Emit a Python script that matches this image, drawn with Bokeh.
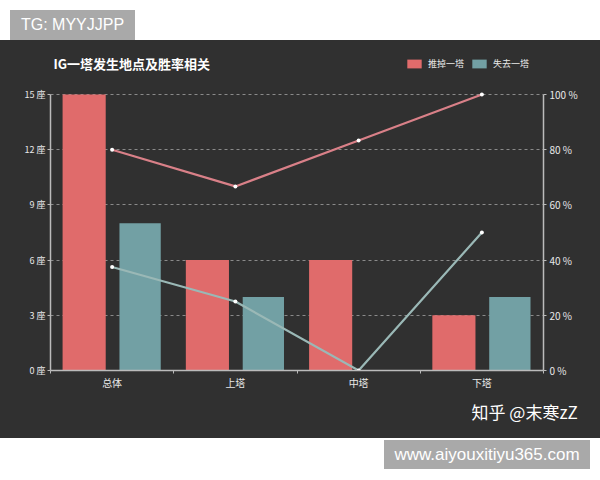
from bokeh.plotting import figure
from bokeh.models import (Range1d, LinearAxis, FixedTicker, Label, Legend, Title,
                          LegendItem, Div, ColumnDataSource, Grid)
from bokeh.layouts import column
from bokeh.transform import dodge
from bokeh.embed import file_html
from bokeh.resources import INLINE

# ---------------- data ----------------
categories = ["总体", "上塔", "中塔", "下塔"]
push_counts = [15, 6, 6, 3]            # 推掉一塔 (座)
lose_counts = [8, 4, 0, 4]             # 失去一塔 (座)
push_winrate = [80, 66.7, 83.3, 100]   # 推掉一塔 胜率 %
lose_winrate = [37.5, 25, 0, 50]       # 失去一塔 胜率 %
count_ticks = [0, 3, 6, 9, 12, 15]
pct_ticks = [0, 20, 40, 60, 80, 100]
series_names = ["推掉一塔", "失去一塔"]
title_text = "IG一塔发生地点及胜率相关"
signature = "知乎 @末寒zZ"
top_mark = "TG: MYYJJPP"
bottom_mark = "www.aiyouxitiyu365.com"

# ---------------- style ----------------
BG = "#303030"
RED = "#e06b6b"
TEAL = "#72a0a4"
RED_LINE = "#d98088"
TEAL_LINE = "#9ab8b6"
AXIS = "#bbbbbb"
TXT = "#e8e8e8"
FONT = "Noto Sans CJK SC"

# layout (pixels)
FIG_W, FIG_H = 600, 398
B_LEFT, B_RIGHT, B_TOP, B_BOTTOM = 50, 57, 4, 68
AXIS_SPAN_PX = 276                       # height of the value axes inside the frame
frame_h = FIG_H - B_TOP - B_BOTTOM
count_max = count_ticks[-1]
pct_max = pct_ticks[-1]
y_end = count_max * frame_h / AXIS_SPAN_PX
pct_end = pct_max * frame_h / AXIS_SPAN_PX

n = len(categories)
centers = [i + 0.5 for i in range(n)]      # category slot centres on the index scale
bounds = list(range(n + 1))                # category slot boundaries

src = ColumnDataSource(dict(xc=centers, cat=categories, push=push_counts, lose=lose_counts,
                            pw=push_winrate, lw=lose_winrate))

p = figure(width=FIG_W, height=FIG_H, x_range=Range1d(0, n), y_range=Range1d(0, y_end),
           output_backend="svg", toolbar_location=None,
           x_axis_location=None, y_axis_location=None,
           background_fill_color=BG, border_fill_color=BG,
           min_border_left=B_LEFT, min_border_right=B_RIGHT,
           min_border_top=B_TOP, min_border_bottom=B_BOTTOM)
p.outline_line_color = None
p.outline_line_alpha = 0
p.styles = {"background-color": BG}
p.center = []
p.extra_y_ranges = {"pct": Range1d(0, pct_end)}

grid = Grid(dimension=1, ticker=FixedTicker(ticks=count_ticks[1:]),
            grid_line_color="#8a8a8a", grid_line_dash="3 3", grid_line_width=1)
p.add_layout(grid)

r_push = p.vbar(x=dodge("xc", -0.227), top="push", width=0.35,
                source=src, fill_color=RED, line_color=None)
r_lose = p.vbar(x=dodge("xc", 0.227), top="lose", width=0.335,
                source=src, fill_color=TEAL, line_color=None)

p.line(x="xc", y="pw", y_range_name="pct", source=src, line_color=RED_LINE, line_width=2.2)
p.scatter(x="xc", y="pw", y_range_name="pct", source=src, size=4, fill_color="white",
          line_color=None)
p.line(x="xc", y="lw", y_range_name="pct", source=src, line_color=TEAL_LINE, line_width=2.2)
p.scatter(x="xc", y="lw", y_range_name="pct", source=src, size=4, fill_color="white",
          line_color=None)


def style_axis(ax, size="9px"):
    ax.axis_line_color = AXIS
    ax.axis_line_width = 1.5
    ax.major_tick_line_color = AXIS
    ax.major_tick_in = 0
    ax.major_tick_out = 3
    ax.minor_tick_line_color = None
    ax.major_label_text_color = TXT
    ax.major_label_text_font = FONT
    ax.major_label_text_font_size = size


left = LinearAxis(ticker=FixedTicker(ticks=count_ticks), bounds=(0, count_max),
                  major_label_overrides={t: f"{t} 座" for t in count_ticks})
style_axis(left)
left.major_label_standoff = 2
p.add_layout(left, "left")

right = LinearAxis(y_range_name="pct", ticker=FixedTicker(ticks=pct_ticks), bounds=(0, pct_max),
                   major_label_overrides={t: f"{t} %" for t in pct_ticks})
style_axis(right, "10px")
right.major_label_standoff = 3
p.add_layout(right, "right")

bottom = LinearAxis(ticker=FixedTicker(ticks=centers, minor_ticks=bounds),
                    major_label_overrides={c: nm for c, nm in zip(centers, categories)})
style_axis(bottom, "10px")
bottom.major_tick_line_color = None
bottom.minor_tick_line_color = AXIS
bottom.minor_tick_in = 0
bottom.minor_tick_out = 3
bottom.major_label_standoff = 1
p.add_layout(bottom, "below")

p.add_layout(Title(text=signature, align="left", offset=421, standoff=8,
                   text_color="white", text_font=FONT, text_font_size="17px",
                   text_font_style="normal"), "below")

legend = Legend(items=[LegendItem(label=series_names[0], renderers=[r_push]),
                       LegendItem(label=series_names[1], renderers=[r_lose])],
                location=(355, 300), orientation="horizontal",
                background_fill_alpha=0, border_line_color=None,
                label_text_color=TXT, label_text_font=FONT, label_text_font_size="9px",
                glyph_width=18, glyph_height=11, spacing=6, label_standoff=5,
                padding=0, margin=0, label_height=11)
p.add_layout(legend)

p.add_layout(Label(x=3, y=307, x_units="screen", y_units="screen", text=title_text,
                   text_color="white", text_font=FONT, text_font_size="13px",
                   text_font_style="bold", text_baseline="middle"))

top_div = Div(text=(
    '<div style="margin-left:10px;margin-top:10px;width:125px;height:30px;'
    'background:#a9a9a9;color:#ffffff;font-family:\'Liberation Sans\',Arial,sans-serif;'
    f'font-size:16px;line-height:30px;text-align:center;">{top_mark}</div>'),
    width=FIG_W, height=40, margin=0)
bottom_div = Div(text=(
    '<div style="margin-left:384px;margin-top:2px;width:206px;height:29px;'
    'background:#a9a9a9;color:#ffffff;font-family:\'Liberation Sans\',Arial,sans-serif;'
    f'font-size:17px;line-height:29px;text-align:center;">{bottom_mark}</div>'),
    width=FIG_W, height=42, margin=0)

layout = column(top_div, p, bottom_div, spacing=0)

open("out.html", "w").write(file_html(layout, INLINE))
